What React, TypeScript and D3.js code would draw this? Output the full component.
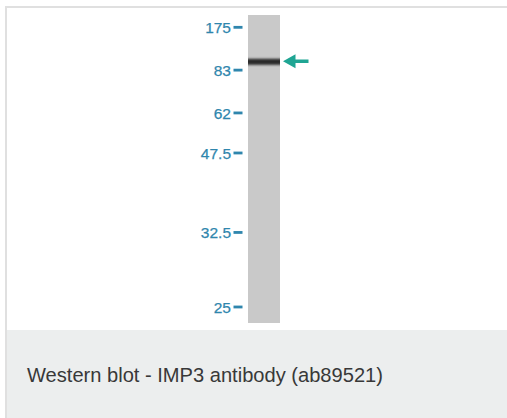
import React from "react";
import * as d3 from "d3";

const markerLabels = ["175", "83", "62", "47.5", "32.5", "25"];
const markerKDa = [175, 83, 62, 47.5, 32.5, 25];
// relative migration distance of each marker down the lane (0 = well, 1 = lane end)
const markerMobility = [0.04, 0.179, 0.318, 0.448, 0.706, 0.948];
const bandKDa = [96];
const caption = "Western blot - IMP3 antibody (ab89521)";

const W = 507;
const H = 418;

export default function App() {
  const laneTop = 15;
  const laneBottom = 323;
  const laneX = 248;
  const laneW = 32;

  const mob = d3.scaleLinear().domain([0, 1]).range([laneTop, laneBottom]);
  const y = d3
    .scaleLog()
    .domain(markerKDa)
    .range(markerMobility.map((m) => mob(m)));

  return (
    <svg
      width={W}
      height={H}
      style={{ position: "absolute", left: 0, top: 0, display: "block" }}
      fontFamily="'Liberation Sans', Arial, sans-serif"
    >
      <defs>
        <filter id="blur" x="-10%" y="-200%" width="120%" height="500%">
          <feGaussianBlur stdDeviation="0.4 1" />
        </filter>
      </defs>
      <rect x={0} y={0} width={W} height={H} fill="#ffffff" />
      {/* frame */}
      <rect x={5} y={6} width={W - 5} height={2} fill="#e0e0e0" />
      <rect x={5} y={6} width={2} height={H - 6} fill="#e0e0e0" />
      {/* caption area */}
      <rect x={7} y={330} width={W - 7} height={H - 330} fill="#eceeee" />
      <text x={27} y={382} fontSize={20.1} fill="#383838">
        {caption}
      </text>
      {/* lane */}
      <rect x={laneX} y={laneTop} width={laneW} height={laneBottom - laneTop} fill="#c9c9c9" />
      {/* band */}
      {bandKDa.map((k, i) => (
        <g key={i}>
          <rect
            x={laneX}
            y={y(k) - 3}
            width={laneW}
            height={6}
            fill="#2a2a2a"
            filter="url(#blur)"
          />
          {/* arrow */}
          <path
            d={`M${laneX + laneW + 3},${y(k) - 0.5} l12.5,-7 v5.3 h13 v3.4 h-13 v5.3 z`}
            fill="#1fa593"
          />
        </g>
      ))}
      {/* markers */}
      {markerKDa.map((k, i) => (
        <g key={k} transform={`translate(0,${y(k)})`}>
          <text
            x={231}
            y={0}
            dy="0.36em"
            textAnchor="end"
            fontSize={15.5}
            fill="#2f86ad"
            stroke="#2f86ad"
            strokeWidth={0.25}
          >
            {markerLabels[i]}
          </text>
          <rect x={233.5} y={-1.4} width={9} height={2.8} fill="#2f86ad" />
        </g>
      ))}
    </svg>
  );
}
